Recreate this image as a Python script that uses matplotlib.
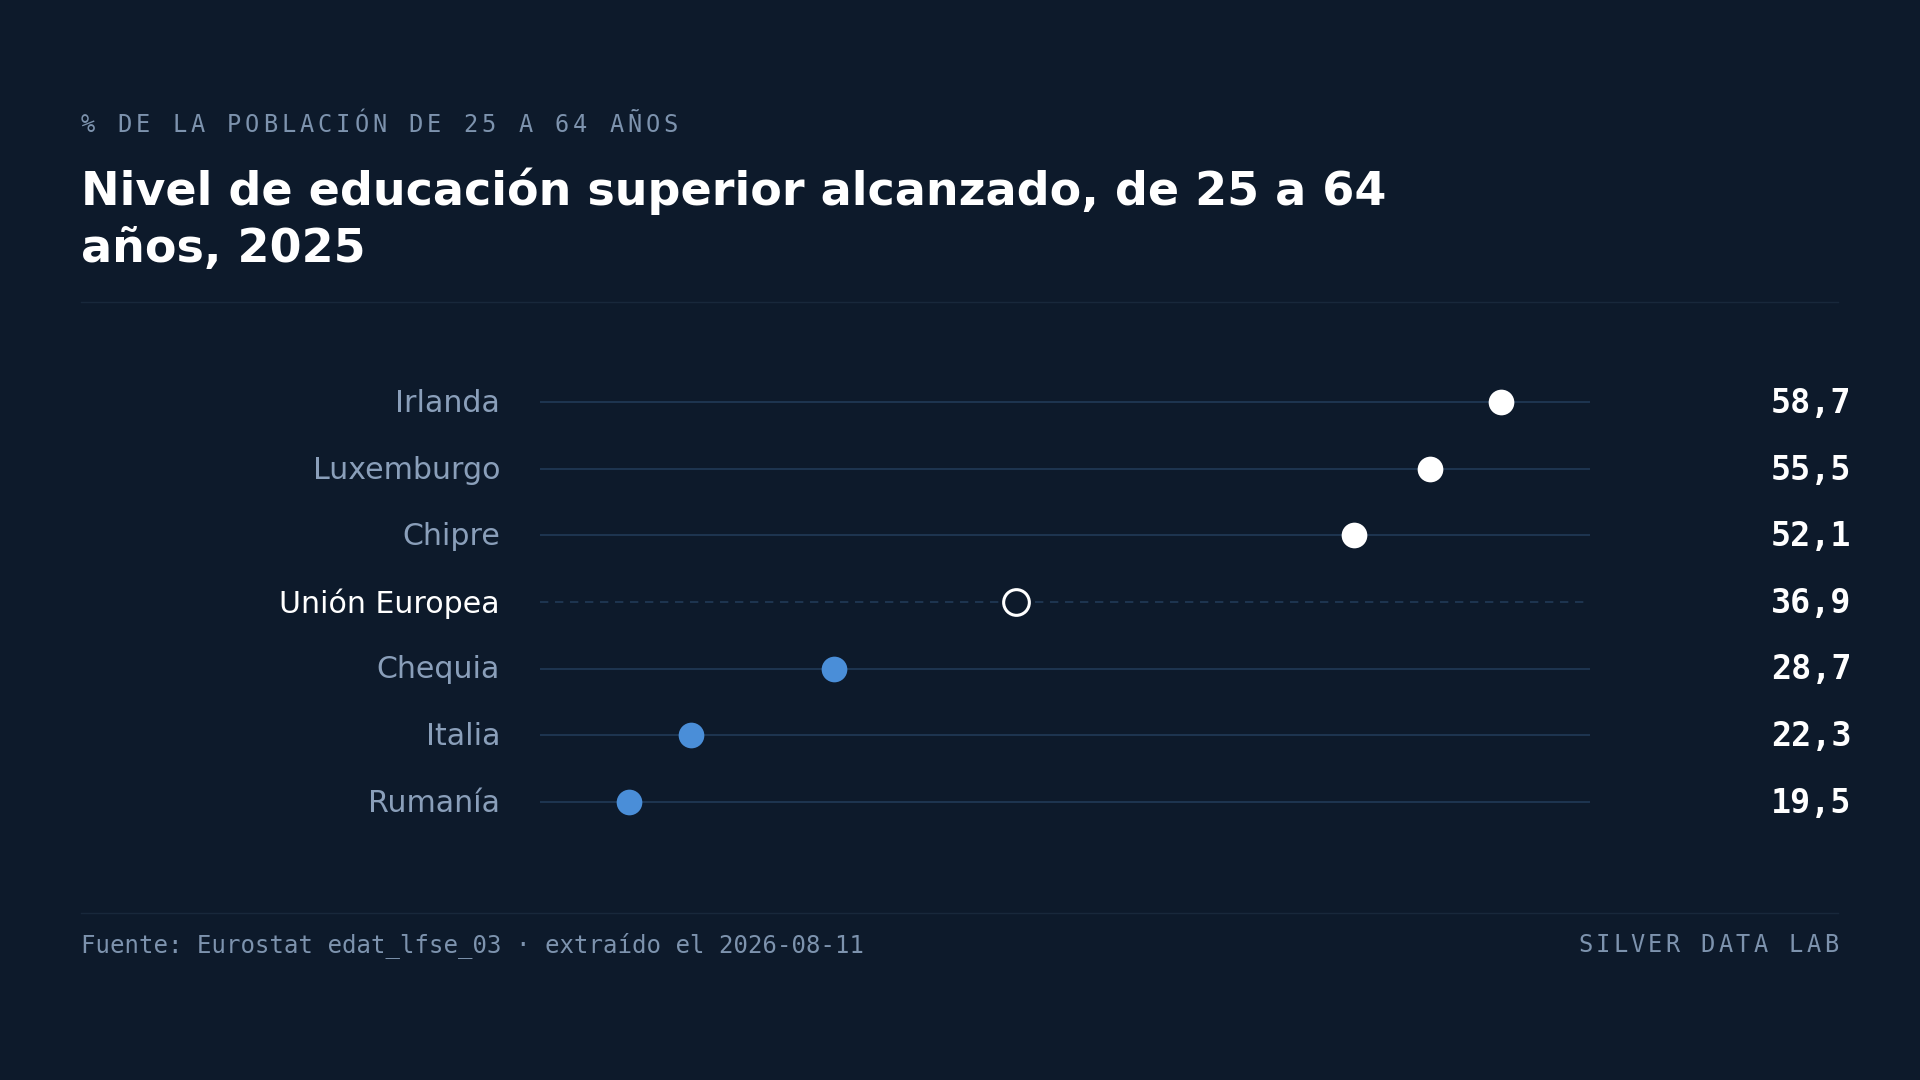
import matplotlib
matplotlib.use("Agg")
import matplotlib.pyplot as plt
from matplotlib.lines import Line2D

# datos
countries = ["Irlanda", "Luxemburgo", "Chipre", "Unión Europea", "Chequia", "Italia", "Rumanía"]
values = [58.7, 55.5, 52.1, 36.9, 28.7, 22.3, 19.5]
groups = ["alto", "alto", "alto", "ue", "bajo", "bajo", "bajo"]

subtitle = "% DE LA POBLACIÓN DE 25 A 64 AÑOS"
title_lines = ["Nivel de educación superior alcanzado, de 25 a 64", "años, 2025"]
source = "Fuente: Eurostat edat_lfse_03 · extraído el 2026-08-11"
brand = "SILVER DATA LAB"

BG = "#0d1a2b"
ROW_LINE = "#213a57"
SEP_LINE = "#18283b"
MUTED = "#8a9fba"
FOOT = "#7d93ae"
WHITE = "#ffffff"
BLUE = "#4a8ed8"

W, H = 1920, 1080
MONO = "DejaVu Sans Mono"


def spaced_text(fig, x_px, y_px, text, size, spacing_px, color, align="left"):
    """Draw letter-spaced monospace text char by char (pixel coords from top-left)."""
    adv = 0.602 * size / 72 * fig.dpi
    step = adv + spacing_px
    if align == "right":
        x_px = x_px - (len(text) - 1) * step - adv
    for i, ch in enumerate(text):
        fig.text((x_px + i * step) / W, 1 - y_px / H, ch, family=MONO, fontsize=size,
                 color=color, ha="left", va="baseline")


def main():
    fig = plt.figure(figsize=(19.2, 10.8), dpi=100, facecolor=BG)

    # header
    spaced_text(fig, 81, 132, subtitle, 17, 4.0, FOOT)
    fig.text(81 / W, 1 - 205 / H, title_lines[0], fontsize=33.15, fontweight="bold",
             color=WHITE, ha="left", va="baseline")
    fig.text(81 / W, 1 - 262 / H, title_lines[1], fontsize=33.15, fontweight="bold",
             color=WHITE, ha="left", va="baseline")
    fig.add_artist(Line2D([81 / W, 1838 / W], [1 - 302 / H] * 2, color=SEP_LINE, lw=1))

    # dot plot
    ax = fig.add_axes([540 / W, 1 - 835 / H, 1050 / W, 466 / H])
    ax.set_facecolor(BG)
    n = len(countries)
    ax.set_xlim(min(values) - 4, max(values) + 4)
    ax.set_ylim(n - 0.5, -0.5)
    ax.axis("off")

    ytr = ax.get_yaxis_transform()
    for i, (name, v, g) in enumerate(zip(countries, values, groups)):
        if g == "ue":
            ax.axhline(i, color=ROW_LINE, lw=1.2, ls=(0, (5, 4)), zorder=1)
            ax.plot(v, i, "o", ms=18.5, mfc=BG, mec=WHITE, mew=2.2, zorder=3)
            lab_color = WHITE
        else:
            ax.axhline(i, color=ROW_LINE, lw=1.2, zorder=1)
            c = WHITE if g == "alto" else BLUE
            ax.plot(v, i, "o", ms=18.5, mfc=c, mec=c, mew=0, zorder=3)
            lab_color = MUTED
        ax.text(-0.038, i + 0.02, name, transform=ytr, ha="right", va="center",
                fontsize=21.6, color=lab_color)
        ax.text(1.249, i + 0.02, f"{v:.1f}".replace(".", ","), transform=ytr, ha="right",
                va="center", fontsize=24, family=MONO, fontweight="bold", color=WHITE)

    # footer
    fig.add_artist(Line2D([81 / W, 1838 / W], [1 - 913 / H] * 2, color=SEP_LINE, lw=1))
    fig.text(81 / W, 1 - 952 / H, source, family=MONO, fontsize=17.25, color=FOOT,
             ha="left", va="baseline")
    spaced_text(fig, 1838, 952, brand, 17, 3.35, FOOT, align="right")

    fig.savefig("out.png", dpi=100, facecolor=BG)
    plt.close(fig)


if __name__ == "__main__":
    main()
